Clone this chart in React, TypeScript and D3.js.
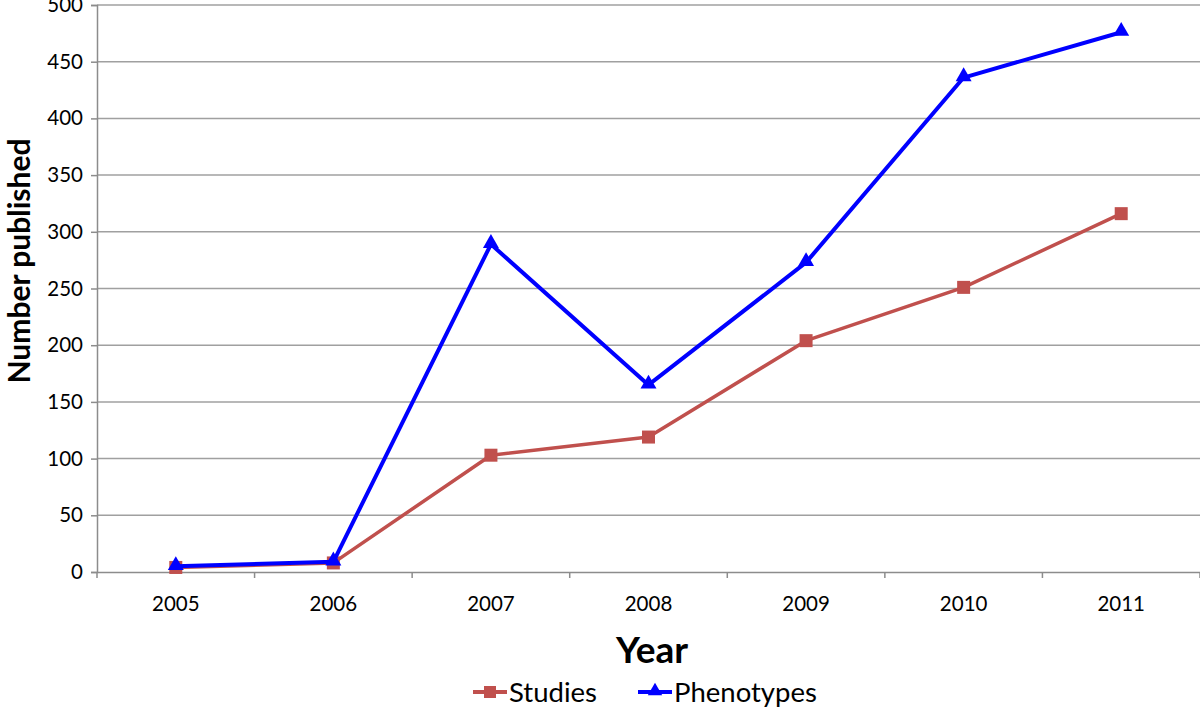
import React, { useEffect, useRef } from 'react';
import * as d3 from 'd3';

const years = ['2005', '2006', '2007', '2008', '2009', '2010', '2011'];
const studies = [4, 8, 103, 119, 204, 251, 316];
const phenotypes = [5, 9, 289, 165, 273, 436, 476];
const yTicks = [0, 50, 100, 150, 200, 250, 300, 350, 400, 450, 500];

const FONT = 'Lato, "Open Sans", sans-serif';

const App = () => {
  const ref = useRef<SVGSVGElement | null>(null);

  useEffect(() => {
    if (!ref.current) return;
    const svg = d3.select(ref.current);
    svg.selectAll('*').remove();

    const margin = { top: 5, right: 0, bottom: 139, left: 97 };
    const width = 1200 - margin.left - margin.right;
    const height = 711 - margin.top - margin.bottom;

    const g = svg.append('g').attr('transform', `translate(${margin.left},${margin.top})`);

    const x = d3.scaleBand().domain(years).range([0, width]);
    const y = d3.scaleLinear().domain([0, 500]).range([height, 0]);

    // gridlines
    g.append('g')
      .selectAll('line')
      .data(yTicks.slice(1))
      .join('line')
      .attr('x1', 0)
      .attr('x2', width)
      .attr('y1', (d) => y(d))
      .attr('y2', (d) => y(d))
      .attr('stroke', '#a0a0a0')
      .attr('stroke-width', 1.5);

    // y axis
    const yAxis = g.append('g')
      .call(d3.axisLeft(y).tickValues(yTicks).tickSize(6).tickPadding(8));
    yAxis.select('.domain').attr('stroke', '#8c8c8c').attr('stroke-width', 1.5);
    yAxis.selectAll('.tick line').attr('stroke', '#8c8c8c').attr('stroke-width', 1.5);
    yAxis.selectAll('.tick text')
      .attr('font-family', FONT)
      .attr('font-size', 20.5)
      .attr('fill', '#000');

    // x axis
    const xAxis = g.append('g')
      .attr('transform', `translate(0,${height})`)
      .call(d3.axisBottom(x).tickSize(0).tickPadding(24));
    xAxis.select('.domain').attr('stroke', '#8c8c8c').attr('stroke-width', 1.5);
    xAxis.selectAll('.tick text')
      .attr('font-family', FONT)
      .attr('font-size', 20.5)
      .attr('fill', '#000');
    const bounds = years.map((d) => x(d) as number).concat([width]);
    xAxis.append('g')
      .selectAll('line')
      .data(bounds)
      .join('line')
      .attr('x1', (d) => d)
      .attr('x2', (d) => d)
      .attr('y1', 0)
      .attr('y2', 6)
      .attr('stroke', '#8c8c8c')
      .attr('stroke-width', 1.5);

    const cx = (i: number) => (x(years[i]) as number) + x.bandwidth() / 2;
    const line = d3.line<number>().x((_, i) => cx(i)).y((d) => y(d));

    // studies
    g.append('path')
      .datum(studies)
      .attr('fill', 'none')
      .attr('stroke', '#c0504d')
      .attr('stroke-width', 3.5)
      .attr('stroke-linejoin', 'round')
      .attr('d', line);
    g.append('g')
      .selectAll('rect')
      .data(studies)
      .join('rect')
      .attr('x', (_, i) => cx(i) - 6.5)
      .attr('y', (d) => y(d) - 6.5)
      .attr('width', 13)
      .attr('height', 13)
      .attr('fill', '#c0504d');

    // phenotypes
    g.append('path')
      .datum(phenotypes)
      .attr('fill', 'none')
      .attr('stroke', '#0000ff')
      .attr('stroke-width', 4)
      .attr('stroke-linejoin', 'round')
      .attr('d', line);
    const tri = d3.symbol().type(d3.symbolTriangle).size(110);
    g.append('g')
      .selectAll('path')
      .data(phenotypes)
      .join('path')
      .attr('transform', (d, i) => `translate(${cx(i)},${y(d) - 1})`)
      .attr('d', tri as any)
      .attr('fill', '#0000ff');

    // axis titles
    svg.append('text')
      .attr('transform', 'translate(30,261) rotate(-90)')
      .attr('text-anchor', 'middle')
      .attr('font-family', FONT)
      .attr('font-weight', 'bold')
      .attr('font-size', 30)
      .text('Number published');

    svg.append('text')
      .attr('x', 652)
      .attr('y', 663)
      .attr('text-anchor', 'middle')
      .attr('font-family', FONT)
      .attr('font-weight', 'bold')
      .attr('font-size', 37)
      .text('Year');

    // legend
    const legend = [
      { name: 'Studies', color: '#c0504d', x: 473, shape: 'square' },
      { name: 'Phenotypes', color: '#0000ff', x: 638, shape: 'triangle' },
    ];
    const lg = svg.append('g').attr('transform', 'translate(0,692)');
    legend.forEach((l) => {
      lg.append('line')
        .attr('x1', l.x)
        .attr('x2', l.x + 34)
        .attr('y1', 0)
        .attr('y2', 0)
        .attr('stroke', l.color)
        .attr('stroke-width', 4);
      if (l.shape === 'square') {
        lg.append('rect')
          .attr('x', l.x + 17 - 6)
          .attr('y', -6)
          .attr('width', 12)
          .attr('height', 12)
          .attr('fill', l.color);
      } else {
        lg.append('path')
          .attr('transform', `translate(${l.x + 17},-1)`)
          .attr('d', d3.symbol().type(d3.symbolTriangle).size(90)() as string)
          .attr('fill', l.color);
      }
      lg.append('text')
        .attr('x', l.x + 36)
        .attr('y', 10)
        .attr('font-family', FONT)
        .attr('font-size', 27.5)
        .text(l.name);
    });
  }, []);

  return (
    <div style={{ position: 'absolute', left: 0, top: 0 }}>
      <svg ref={ref} width={1200} height={711} style={{ display: 'block', background: '#fff' }} />
    </div>
  );
};

export default App;
